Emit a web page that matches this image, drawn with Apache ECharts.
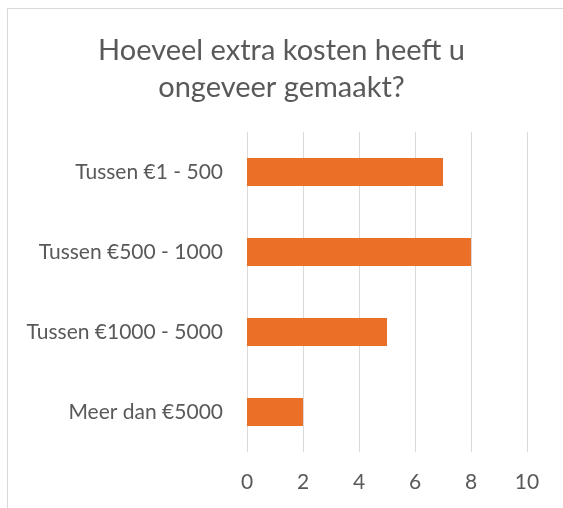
<!DOCTYPE html>
<html>
<head>
<meta charset="utf-8">
<script src="https://cdn.jsdelivr.net/npm/echarts@6/dist/echarts.min.js"></script>
<style>
html,body{margin:0;padding:0;background:#fff;}
#chart{width:563px;height:508px;}
</style>
</head>
<body>
<div id="chart"></div>
<script>
var categories = ['Tussen €1 - 500', 'Tussen €500 - 1000', 'Tussen €1000 - 5000', 'Meer dan €5000'];
var values = [7, 8, 5, 2];
var xTicks = [0, 2, 4, 6, 8, 10];

var chart = echarts.init(document.getElementById('chart'));
chart.setOption({
	animation: false,
	title: {
		text: 'Hoeveel extra kosten heeft u\nongeveer gemaakt?',
		left: 'center',
		top: 27,
		textStyle: {
			fontFamily: 'Lato',
			fontWeight: 'normal',
			fontSize: 29,
			lineHeight: 37,
			color: '#595959'
		}
	},
	graphic: [{
		type: 'rect',
		shape: {x: 7.5, y: 8.5, width: 600, height: 600},
		style: {fill: 'none', stroke: '#d9d9d9', lineWidth: 1}
	}],
	grid: {left: 247, right: 36, top: 132, bottom: 56},
	xAxis: {
		type: 'value',
		min: xTicks[0],
		max: xTicks[xTicks.length - 1],
		interval: 2,
		axisLine: {show: false},
		axisTick: {show: false},
		axisLabel: {margin: 20, fontFamily: 'Lato', fontSize: 21, color: '#595959'},
		splitLine: {lineStyle: {color: '#d9d9d9', width: 1}}
	},
	yAxis: {
		type: 'category',
		inverse: true,
		data: categories,
		axisLine: {show: false},
		axisTick: {show: false},
		axisLabel: {margin: 24, fontFamily: 'Lato', fontSize: 21, color: '#595959'}
	},
	series: [{
		type: 'bar',
		data: values,
		barWidth: 28,
		itemStyle: {color: '#EC6F27'}
	}]
});
</script>
</body>
</html>
